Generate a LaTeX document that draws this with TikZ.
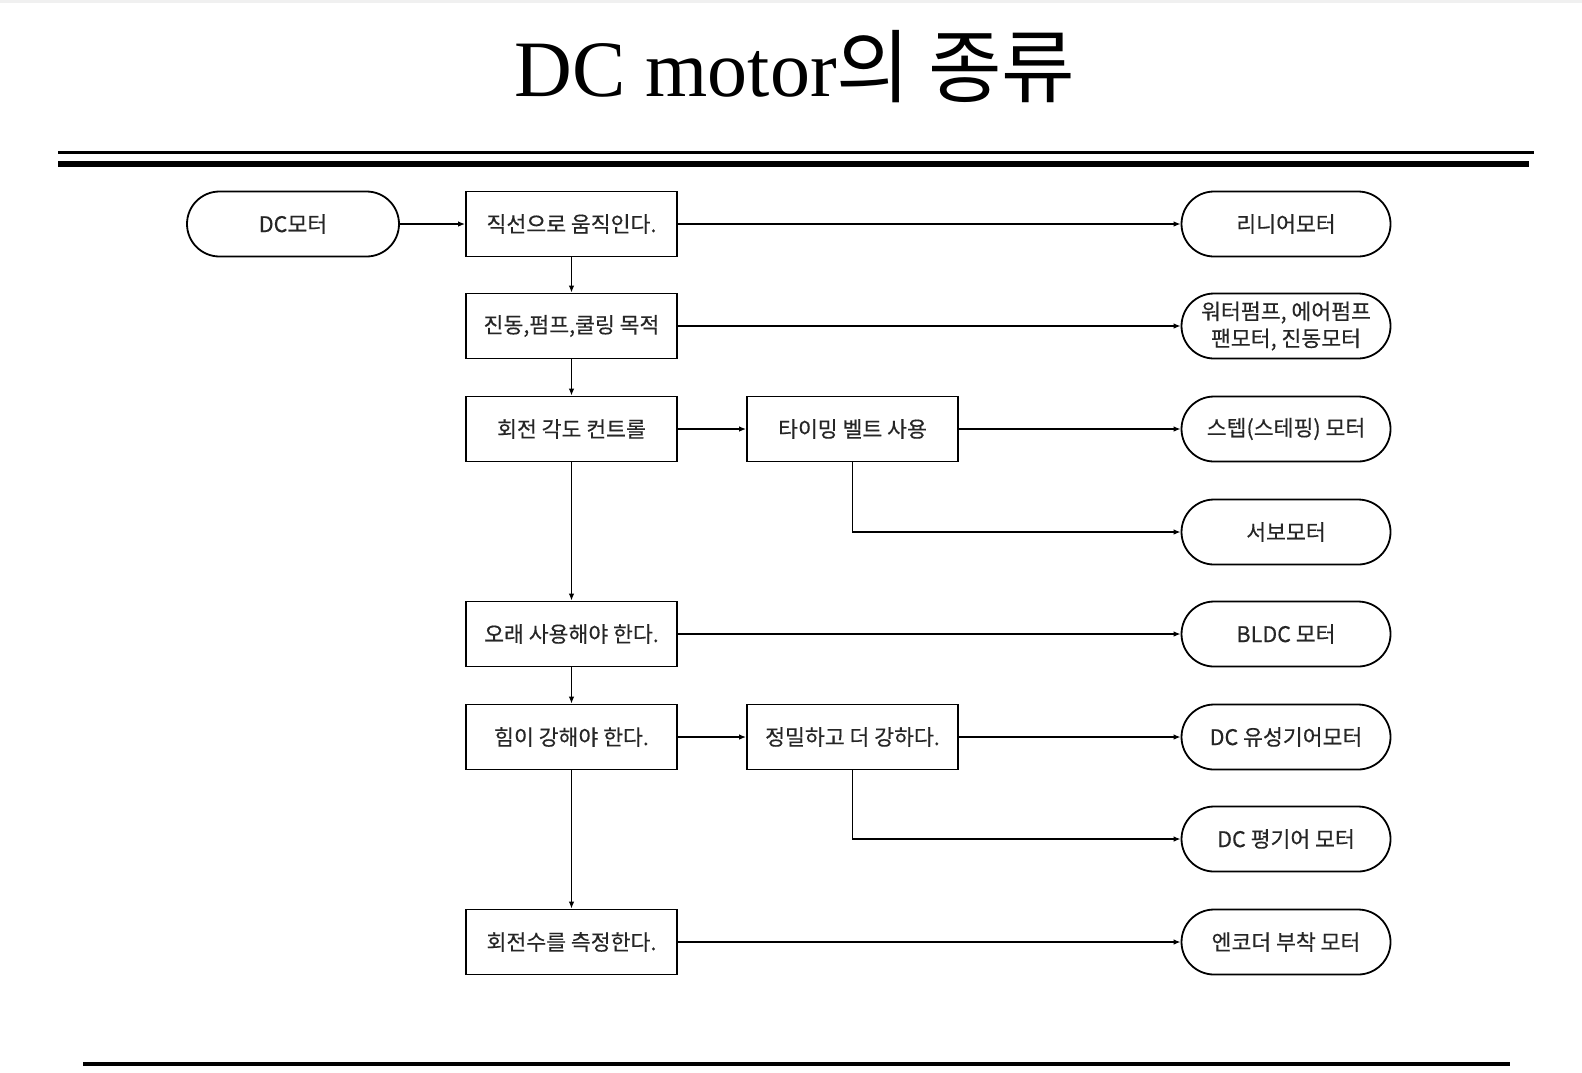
\documentclass[tikz,border=0pt]{standalone}
\usepackage{fontspec}
\setmainfont{Liberation Serif}
\newfontfamily\kr{Noto Sans CJK KR}
\newfontfamily\krb{Noto Sans CJK KR}[FakeBold=0.35]
\usetikzlibrary{shapes.misc,arrows.meta}
\begin{document}
\begin{tikzpicture}[x=0.5pt,y=-0.5pt,
  boxnode/.style={draw,line width=0.9pt,rectangle,minimum width=105.5pt,minimum height=32.5pt,inner sep=0pt,font=\krb\fontsize{10.8}{12}\selectfont,text=black!85},
  pillnode/.style={draw,line width=0.9pt,rounded rectangle,minimum width=104.5pt,minimum height=32.5pt,inner sep=0pt,font=\krb\fontsize{10.8}{13.5}\selectfont,text=black!85,align=center},
  conn/.style={line width=0.8pt,-{Latex[length=3.5pt,width=2.8pt]}},
  plain/.style={line width=0.8pt}]
\useasboundingbox (0,0) rectangle (1582,1072);
\fill[black!6] (0,0) rectangle (1582,3);
% title
\node[anchor=base,inner sep=0pt] (title) at (795,96) {\fontsize{40}{48}\selectfont DC motor{\kr 의 종류}};
% rules
\coordinate (t1a) at (58,152); \coordinate (t1b) at (1534,152);
\coordinate (t2a) at (58,164); \coordinate (t2b) at (1529,164);
\coordinate (b1a) at (83,1064); \coordinate (b1b) at (1510,1064);
\draw[line width=1.5pt] (t1a) -- (t1b);
\draw[line width=2.7pt] (t2a) -- (t2b);
\draw[line width=1.8pt] (b1a) -- (b1b);
% nodes
\node[pillnode,minimum width=106pt] (dc) at (293,224) {DC모터};
\node[boxnode] (l1) at (571.5,224) {직선으로 움직인다.};
\node[boxnode] (l2) at (571.5,326) {진동,펌프,쿨링 목적};
\node[boxnode] (l3) at (571.5,429) {회전 각도 컨트롤};
\node[boxnode] (l4) at (571.5,634) {오래 사용해야 한다.};
\node[boxnode] (l5) at (571.5,737) {힘이 강해야 한다.};
\node[boxnode] (l6) at (571.5,942) {회전수를 측정한다.};
\node[boxnode] (m1) at (852.5,429) {타이밍 벨트 사용};
\node[boxnode] (m2) at (852.5,737) {정밀하고 더 강하다.};
\node[pillnode] (r1) at (1286,224) {리니어모터};
\node[pillnode] (r2) at (1286,326) {워터펌프, 에어펌프\\팬모터, 진동모터};
\node[pillnode] (r3) at (1286,429) {스텝(스테핑) 모터};
\node[pillnode] (r4) at (1286,532) {서보모터};
\node[pillnode] (r5) at (1286,634) {BLDC 모터};
\node[pillnode] (r6) at (1286,737) {DC 유성기어모터};
\node[pillnode] (r7) at (1286,839) {DC 평기어 모터};
\node[pillnode] (r8) at (1286,942) {엔코더 부착 모터};
% connectors
\draw[conn] (dc) -- (l1);
\draw[conn] (l1) -- (r1);
\draw[conn] (l1) -- (l2);
\draw[conn] (l2) -- (r2);
\draw[conn] (l2) -- (l3);
\draw[conn] (l3) -- (m1);
\draw[conn] (m1) -- (r3);
\draw[conn] (m1.south) |- (r4.west);
\draw[conn] (l3) -- (l4);
\draw[conn] (l4) -- (r5);
\draw[conn] (l4) -- (l5);
\draw[conn] (l5) -- (m2);
\draw[conn] (m2) -- (r6);
\draw[conn] (m2.south) |- (r7.west);
\draw[conn] (l5) -- (l6);
\draw[conn] (l6) -- (r8);
\end{tikzpicture}
\end{document}
